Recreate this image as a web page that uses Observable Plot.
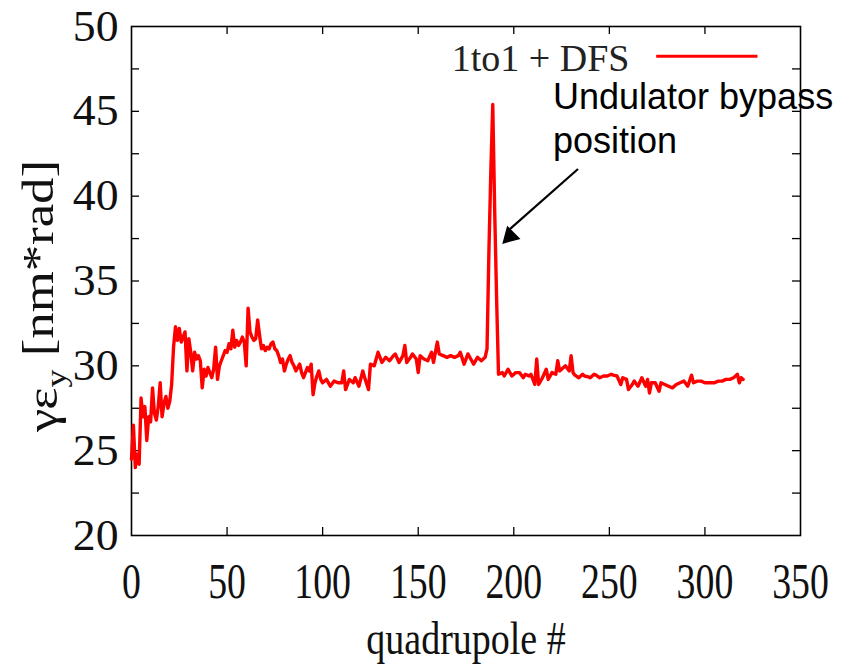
<!DOCTYPE html>
<html>
<head>
<meta charset="utf-8">
<script src="https://cdn.jsdelivr.net/npm/d3@7"></script>
<script src="https://cdn.jsdelivr.net/npm/@observablehq/plot@0.6"></script>
<style>
  html, body { margin: 0; padding: 0; background: #fff; }
  #chart svg { display: block; }
</style>
</head>
<body>
<div id="chart"></div>
<script>
// ---- data ----
const quad = [
  0,1,2,3,4,5,6,7,8,9,10,11,12,13,14,15,16,17,18,19,20,
  21,22,23,24,25,26,27,28,29,30,31,32,33,34,35,36,37,38,39,40,
  41,42,43,44,45,46,47,48,49,50,51,52,53,54,55,56,57,58,59,60,
  61,62,63,64,65,66,67,68,69,70,71,72,73,74,75,76,77,78,79,80,
  81,82,83,84,85,86,87,88,89,90,91,92,93,94,95,96,97,98,99,100,
  102,104,106,108,110,111,112,114,116,117,119,121,122,124,125,127,129,131,133,135,
  137,138,140,142,143,144,146,147,149,150,151,153,155,157,158,160,161,163,165,167,
  169,171,172,174,176,178,179,181,183,185,186,187,188,189,190,191,192,194,195,197,
  199,201,203,205,206,208,209,211,212,213,215,217,218,220,222,223,224,226,227,229,
  230,231,232,234,236,237,239,240,242,243,245,247,249,251,252,254,256,257,259,260,
  262,263,265,267,269,270,271,272,274,276,277,279,281,283,285,287,289,291,293,294,
  296,298,300,302,305,307,309,311,313,315,317,318,319,320
];
const emittance = [
  24.5,26.5,24.0,24.8,24.2,28.1,27.0,27.6,25.6,27.0,26.7,28.7,27.2,26.8,27.6,29.0,27.0,27.8,28.2,27.5,27.9,
  28.9,31.1,32.3,31.5,32.2,31.4,31.7,32.0,29.7,31.6,30.8,29.7,30.8,30.4,30.6,30.3,28.7,29.8,29.4,29.9,
  29.6,29.3,29.8,31.1,29.2,30.0,30.3,30.6,30.9,30.8,31.3,31.0,32.1,31.1,31.5,31.2,31.4,31.7,31.4,30.0,
  33.4,32.0,31.7,31.5,31.6,32.7,31.8,31.0,31.2,30.9,31.1,31.0,31.3,31.4,31.0,30.9,30.6,30.2,30.4,29.7,
  30.1,30.4,30.6,30.2,30.0,29.7,29.9,30.1,29.6,29.3,29.6,29.9,29.7,30.1,28.3,29.0,29.4,29.7,29.2,29.0,
  29.2,28.8,29.1,29.0,29.0,29.7,28.6,29.2,29.0,29.3,28.8,29.7,29.3,28.6,30.1,30.0,30.8,30.2,30.5,30.3,
  30.6,30.7,30.2,30.6,31.2,30.2,30.5,30.7,30.4,29.6,30.6,30.4,30.3,30.8,30.2,31.4,30.7,30.6,30.5,30.6,
  30.5,30.6,30.8,30.1,30.7,30.3,30.1,30.5,30.3,30.5,31.0,36.8,41.5,45.4,39.2,34.0,29.5,29.6,29.4,29.8,
  29.4,29.6,29.6,29.3,29.5,29.4,29.5,28.9,30.4,28.9,29.3,29.8,29.2,29.6,29.5,30.3,29.7,29.9,30.0,29.7,
  30.6,29.6,29.45,29.3,29.5,29.4,29.35,29.3,29.5,29.45,29.3,29.4,29.4,29.5,29.45,29.4,28.9,29.3,29.2,28.6,
  28.9,29.1,28.8,29.3,28.8,29.2,28.4,29.0,29.0,28.5,29.0,28.9,28.8,28.7,28.9,29.0,29.1,28.8,29.45,29.0,
  29.1,29.1,29.0,29.0,29.0,29.1,29.1,29.2,29.2,29.3,29.5,29.0,29.3,29.2
];
const xTickLabels = [0, 50, 100, 150, 200, 250, 300, 350];
const yTickLabels = [20, 25, 30, 35, 40, 45, 50];
const xTickMarks = [50, 100, 150, 200, 250, 300];
const yTickMarks = [22.5, 25, 27.5, 30, 32.5, 35, 37.5, 40, 42.5, 45, 47.5];
const seriesName = "1to1 + DFS";
const xTitle = "quadrupole #";
const annotationText = "Undulator bypass\nposition";
// annotation anchor points in data units [quadrupole, emittance]
const annotationAt = [220.5, 46.95];
const arrowFrom = [233.6, 41.6];
const arrowTo = [196.3, 37.9];
const arrowHead = [198.0, 37.64];
// legend placement in data units
const legendTextAt = [260.5, 48.1];
const legendLine = [[274.5, 48.25], [327.5, 48.25]];

const data = quad.map((q, i) => ({q, e: emittance[i]}));

const W = 843, H = 670;
const mL = 131, mR = 43, mT = 26, mB = 135;
const pw = W - mL - mR, ph = H - mT - mB;
const serif = "'Liberation Serif', 'Times New Roman', serif";
const sans = "'Liberation Sans', Arial, sans-serif";

const chart = Plot.plot({
  width: W, height: H,
  marginLeft: mL, marginRight: mR, marginTop: mT, marginBottom: mB,
  style: {fontFamily: serif, color: "#111", background: "#fff"},
  x: {domain: [0, 350]},
  y: {domain: [20, 50]},
  marks: [
    Plot.axisX({ticks: xTickLabels, tickSize: 0, tickPadding: 27, fontSize: 42, label: null, tickFormat: d => String(d)}),
    Plot.axisY({ticks: yTickLabels, tickSize: 0, tickPadding: 13, fontSize: 44, label: null, tickFormat: d => String(d)}),
    // inward ticks on all four sides
    Plot.tickY(yTickMarks, {y: d => d, insetRight: pw - 8, stroke: "#000", strokeWidth: 1.3}),
    Plot.tickY(yTickMarks, {y: d => d, insetLeft: pw - 8, stroke: "#000", strokeWidth: 1.3}),
    Plot.tickX(xTickMarks, {x: d => d, insetTop: ph - 8, stroke: "#000", strokeWidth: 1.3}),
    Plot.tickX(xTickMarks, {x: d => d, insetBottom: ph - 8, stroke: "#000", strokeWidth: 1.3}),
    Plot.frame({stroke: "#000", strokeWidth: 1.6}),
    Plot.line(data, {x: "q", y: "e", stroke: "#ff0000", strokeWidth: 3.4, strokeLinejoin: "round"}),
    // legend
    Plot.text([seriesName], {x: () => legendTextAt[0], y: () => legendTextAt[1], text: d => d, textAnchor: "end", lineAnchor: "middle", fontSize: 38, fontFamily: serif, fill: "#222"}),
    Plot.link([legendLine], {x1: d => d[0][0], y1: d => d[0][1], x2: d => d[1][0], y2: d => d[1][1], stroke: "#ff0000", strokeWidth: 3}),
    // x title
    Plot.text([xTitle], {frameAnchor: "bottom", text: d => d, lineAnchor: "top", dy: 86, fontSize: 40, fontFamily: serif, fill: "#111"}),
    // annotation
    Plot.text([annotationText], {x: () => annotationAt[0], y: () => annotationAt[1], text: d => d, textAnchor: "start", lineAnchor: "top", lineHeight: 1.21, fontSize: 36, fontFamily: sans, fill: "#000"}),
    Plot.link([[arrowFrom, arrowTo]], {x1: d => d[0][0], y1: d => d[0][1], x2: d => d[1][0], y2: d => d[1][1], stroke: "#000", strokeWidth: 2.2}),
    Plot.dot([arrowHead], {x: d => d[0], y: d => d[1], symbol: "triangle", r: 7, rotate: 225, fill: "#000", stroke: "none"})
  ]
});

const svg = d3.select(chart);
// the reference's serif lettering is tall and narrow: stretch it vertically
function stretch(sel, sx, sy) {
  sel.each(function () {
    const tr = this.getAttribute("transform") || "";
    this.setAttribute("transform", tr + ` scale(${sx},${sy})`);
  });
}
stretch(svg.selectAll('g[aria-label="x-axis tick label"] text'), 0.9, 1.2);
stretch(svg.selectAll('g[aria-label="y-axis tick label"] text'), 1.04, 1.0);

// y-axis title with subscript
const t = svg.append("text")
  .attr("transform", "translate(42,296) rotate(-90) scale(1.2,1)")
  .attr("text-anchor", "middle")
  .attr("dy", "0.35em")
  .attr("font-family", serif)
  .attr("font-size", 44)
  .attr("fill", "#111");
t.append("tspan").text("γε");
t.append("tspan").attr("font-size", 30).attr("dy", "0.3em").text("y");
t.append("tspan").attr("dy", "-0.3em").text(" [nm*rad]");

// x title: also narrow and tall
stretch(svg.selectAll('g[aria-label="text"] text').filter(function () { return this.textContent === xTitle; }), 0.95, 1.15);

document.getElementById("chart").appendChild(chart);
</script>
</body>
</html>
